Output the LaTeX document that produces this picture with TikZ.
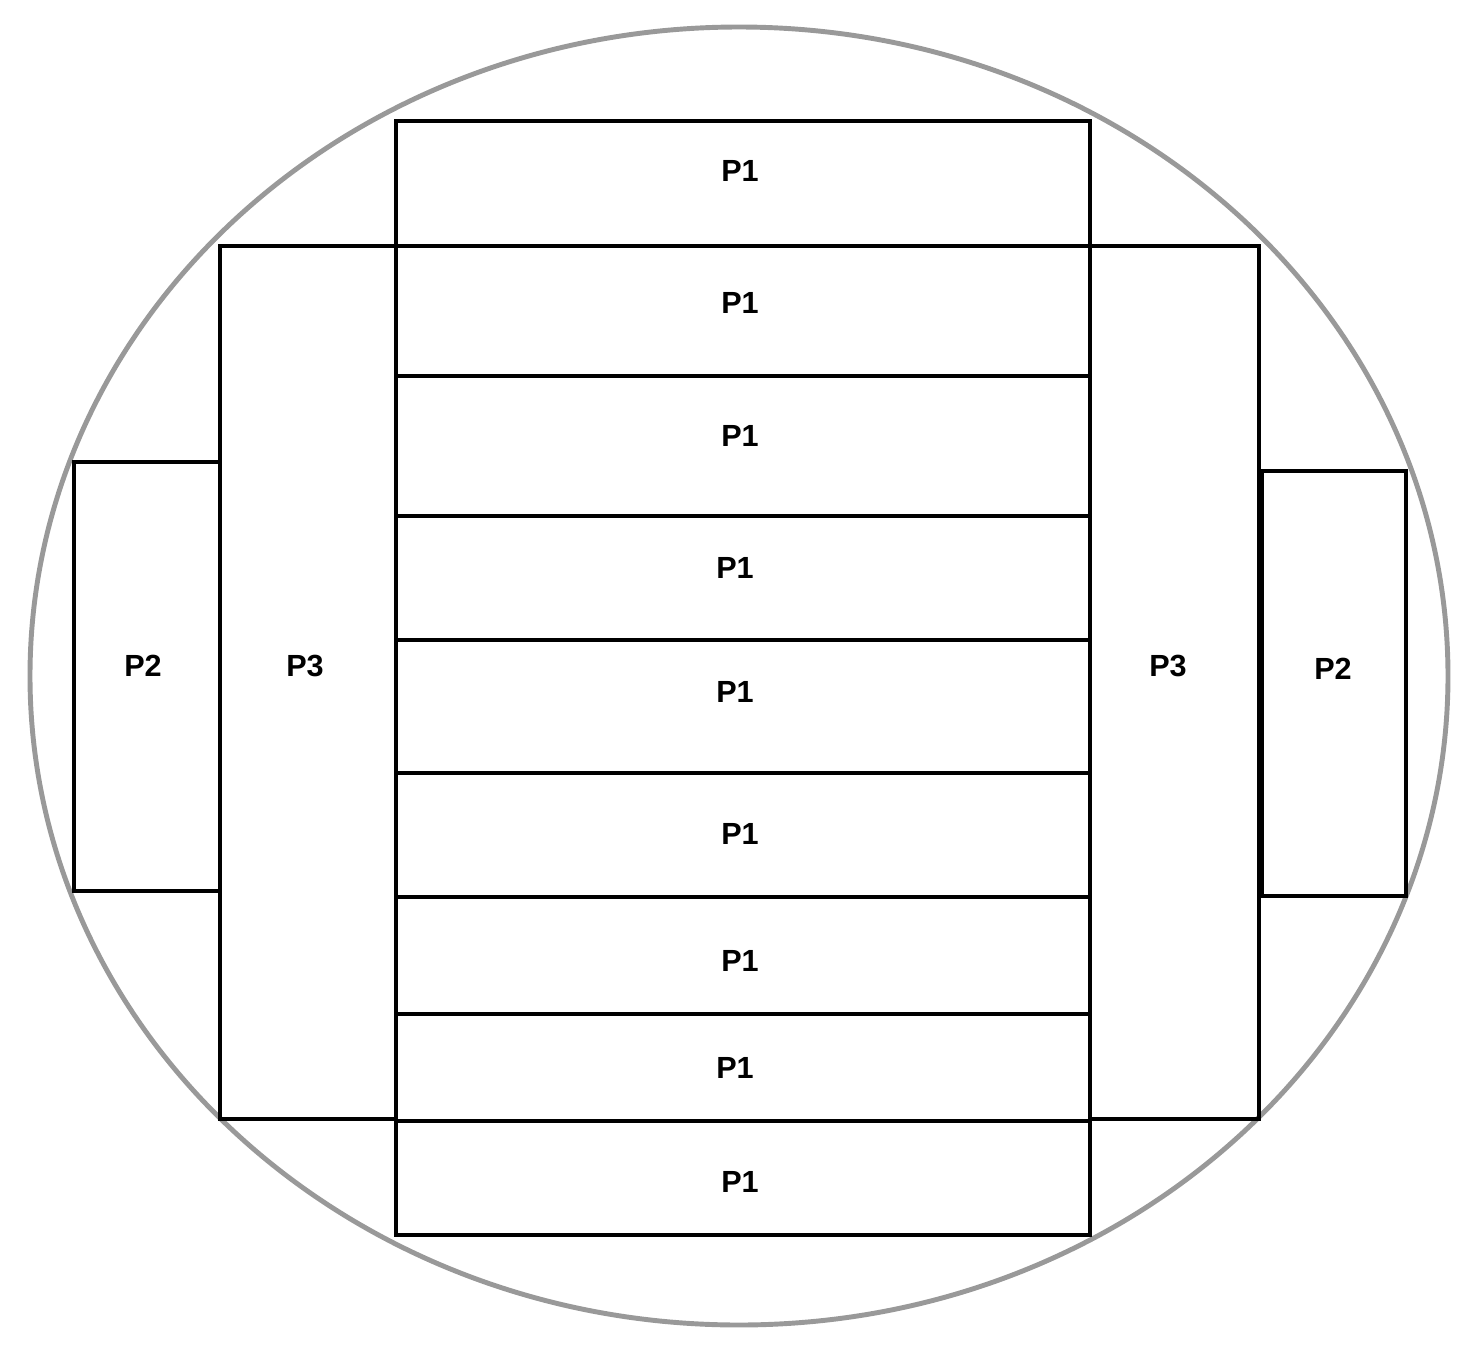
\documentclass[tikz,border=0pt]{standalone}
\usepackage{fontspec}
\setmainfont{Liberation Sans}
\definecolor{wafergray}{HTML}{999999}
\usetikzlibrary{positioning}

\begin{document}
\begin{tikzpicture}[
  x=0.01cm, y=-0.01cm,
  wafer/.style={draw=wafergray, line width=1.4pt},
  cell/.style={draw=black, line width=1.15pt},
  lbl/.style={font=\fontsize{8.7}{10}\selectfont\bfseries, inner sep=0pt}
]
  \useasboundingbox (0,0) rectangle (1475,1348);

  % Wafer outline
  \draw[wafer] (739,676) ellipse [x radius=709, y radius=649];

  % Middle column: P1 rows
  \draw[cell] (396,121) rectangle (1090,246);
  \draw[cell] (396,246) rectangle (1090,376);
  \draw[cell] (396,376) rectangle (1090,516);
  \draw[cell] (396,516) rectangle (1090,640);
  \draw[cell] (396,640) rectangle (1090,773);
  \draw[cell] (396,773) rectangle (1090,897);
  \draw[cell] (396,897) rectangle (1090,1014);
  \draw[cell] (396,1014) rectangle (1090,1121);
  \draw[cell] (396,1121) rectangle (1090,1235);

  % Side columns: P3
  \draw[cell] (220,246) rectangle (396,1119);
  \draw[cell] (1090,246) rectangle (1259,1119);

  % Outer blocks: P2
  \draw[cell] (74,462) rectangle (220,891);
  \draw[cell] (1262,471) rectangle (1406,896);

  % Labels
  \node[lbl] (p1a) at (740,171) {P1};
  \node[lbl] (p1b) at (740,303) {P1};
  \node[lbl] (p1c) at (740,436) {P1};
  \node[lbl] (p1d) at (735,568) {P1};
  \node[lbl] (p1e) at (735,692) {P1};
  \node[lbl] (p1f) at (740,834) {P1};
  \node[lbl] (p1g) at (740,961) {P1};
  \node[lbl] (p1h) at (735,1068) {P1};
  \node[lbl] (p1i) at (740,1182) {P1};
  \node[lbl] (p3l) at (305,666) {P3};
  \node[lbl] (p3r) at (1168,666) {P3};
  \node[lbl] (p2l) at (143,666) {P2};
  \node[lbl] (p2r) at (1333,669) {P2};
\end{tikzpicture}
\end{document}
